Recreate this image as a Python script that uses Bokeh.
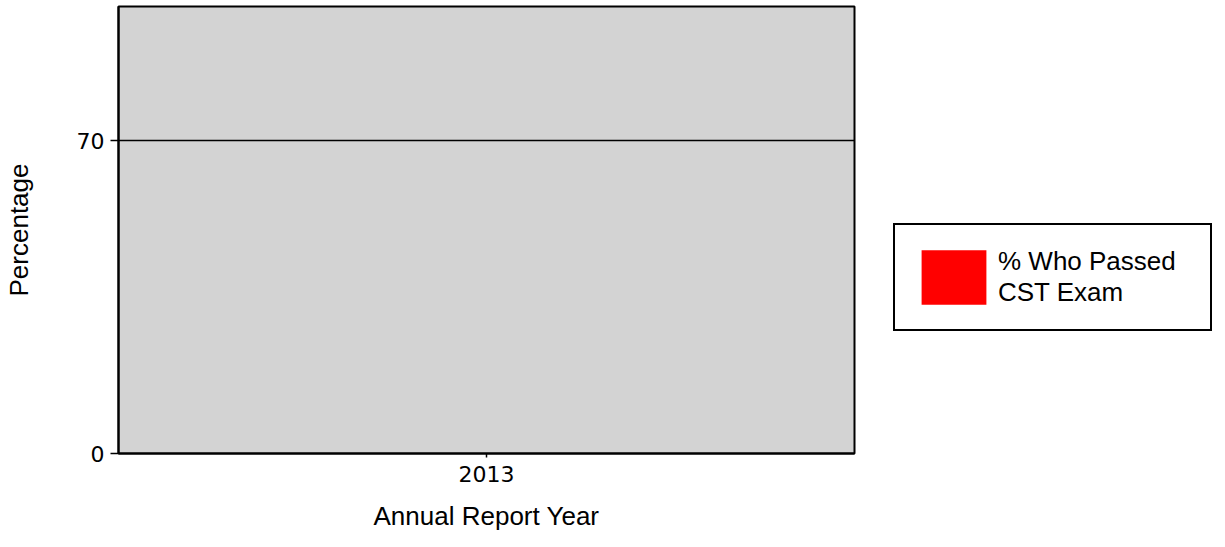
from bokeh.plotting import figure
from bokeh.models import Legend, LegendItem, FixedTicker, FactorRange, Range1d
from bokeh.embed import file_html
from bokeh.resources import INLINE

years = ["2013"]
passed = [0]
target = 70
y_ticks = [0, 70]
series_name = "% Who Passed\nCST Exam"

p = figure(x_range=FactorRange(*years), y_range=Range1d(0, 100),
           frame_width=736, frame_height=447,
           min_border_left=113, min_border_top=6, min_border_bottom=78, min_border_right=352,
           output_backend="svg", toolbar_location=None)

p.background_fill_color = "#D3D3D3"
p.outline_line_color = "black"
p.outline_line_width = 2
p.outline_line_alpha = 1

bars = p.vbar(x=years, top=passed, width=0.6, fill_color="red", line_color=None)

p.xgrid.grid_line_color = None
p.ygrid.ticker = FixedTicker(ticks=[target])
p.ygrid.grid_line_color = "black"
p.ygrid.grid_line_width = 1.6
p.ygrid.grid_line_alpha = 1

p.yaxis.ticker = FixedTicker(ticks=y_ticks)
p.yaxis.minor_tick_line_color = None
for ax in (p.xaxis[0], p.yaxis[0]):
    ax.axis_line_color = "black"
    ax.axis_line_width = 2
    ax.major_tick_line_color = "black"
    ax.major_tick_line_width = 1.5
    ax.major_tick_in = 0
    ax.major_tick_out = 8
    ax.major_label_text_font = "DejaVu Sans"
    ax.major_label_text_font_size = "22px"
    ax.major_label_text_color = "black"
    ax.axis_label_text_font = "Liberation Sans"
    ax.axis_label_text_font_size = "26px"
    ax.axis_label_text_font_style = "normal"
    ax.axis_label_text_color = "black"

p.xaxis.major_tick_out = 4
p.xaxis.major_label_standoff = 8
p.xaxis.axis_label = "Annual Report Year"
p.xaxis.axis_label_standoff = 16
p.yaxis.axis_label = "Percentage"
p.yaxis.major_label_standoff = 6
p.yaxis.axis_label_standoff = 40

legend = Legend(items=[LegendItem(label=series_name, renderers=[bars])],
                location=(39, 122), orientation="vertical",
                glyph_width=81, glyph_height=68, label_standoff=4,
                padding=18, margin=0, spacing=0, label_width=194,
                label_text_font="Liberation Sans", label_text_font_size="26px",
                label_text_line_height=1.15, label_text_color="black",
                border_line_color="black", border_line_width=2, border_line_alpha=1,
                background_fill_color="white", background_fill_alpha=1)
p.add_layout(legend, "right")

open("out.html", "w").write(file_html(p, INLINE))
